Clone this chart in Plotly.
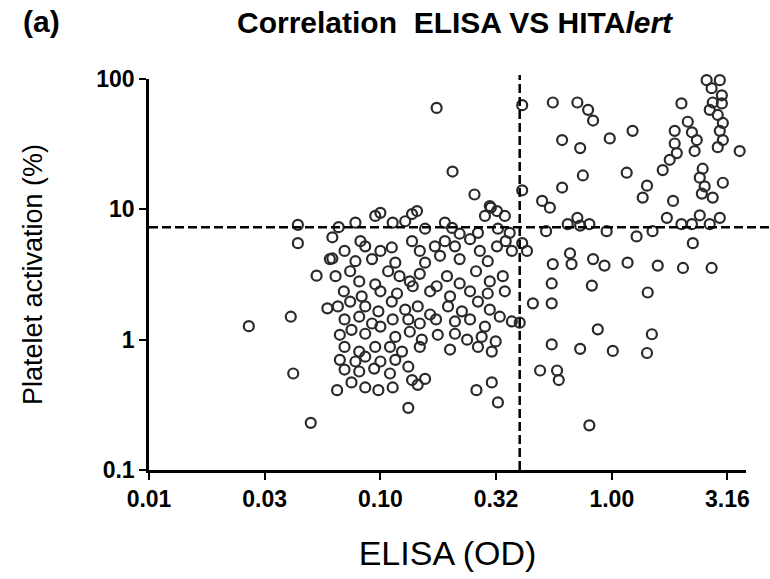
import plotly.graph_objects as go

# ELISA OD values (x) and platelet activation % (y)
elisa_left = [0.027, 0.041, 0.042, 0.050, 0.044, 0.044, 0.053, 0.062, 0.059, 0.065, 0.175, 0.205, 0.41, 0.255, 0.30]
plt_left = [1.27, 1.5, 0.55, 0.23, 7.6, 5.5, 3.1, 4.2, 1.74, 0.41, 60, 19.5, 14, 13, 10.3]

elisa_c1 = [0.078, 0.095, 0.10, 0.113, 0.128, 0.137, 0.144, 0.156, 0.19, 0.204, 0.22, 0.264, 0.283, 0.297, 0.319,
            0.345, 0.322, 0.362, 0.066, 0.082, 0.062]
plt_c1 = [7.9, 8.9, 9.4, 7.9, 8.1, 9.2, 9.7, 7.1, 7.9, 7.2, 6.5, 6.6, 8.9, 10.6, 9.7,
          8.9, 7.1, 6.6, 7.3, 5.7, 6.1]

elisa_c2 = [0.070, 0.086, 0.10, 0.112, 0.137, 0.148, 0.172, 0.19, 0.21, 0.244, 0.269, 0.319, 0.348, 0.37, 0.0605,
            0.078, 0.092, 0.116, 0.156, 0.181, 0.22, 0.291]
plt_c2 = [4.8, 5.2, 4.8, 5.1, 5.7, 4.8, 5.2, 5.7, 5.2, 5.9, 4.8, 5.2, 5.7, 4.8, 4.15,
          4.0, 4.15, 3.9, 3.9, 4.4, 4.15, 4.0]

elisa_c3 = [0.064, 0.074, 0.081, 0.095, 0.108, 0.121, 0.134, 0.148, 0.175, 0.194, 0.22, 0.259, 0.297, 0.338,
            0.0695, 0.083, 0.10, 0.118, 0.138, 0.164, 0.20, 0.244, 0.291, 0.345]
plt_c3 = [3.07, 3.35, 2.8, 2.66, 3.35, 3.07, 2.8, 3.2, 2.57, 3.07, 2.7, 3.35, 2.8, 3.07,
          2.35, 2.15, 2.35, 2.26, 2.57, 2.35, 2.15, 2.35, 2.26, 2.35]

elisa_c4 = [0.0655, 0.074, 0.086, 0.098, 0.112, 0.128, 0.145, 0.164, 0.196, 0.225, 0.264, 0.297,
            0.070, 0.081, 0.092, 0.113, 0.132, 0.148, 0.174, 0.21, 0.244, 0.283, 0.328, 0.37]
plt_c4 = [1.8, 1.96, 1.8, 1.65, 1.96, 1.7, 1.8, 1.56, 1.8, 1.65, 1.96, 1.7,
          1.43, 1.5, 1.33, 1.43, 1.43, 1.33, 1.43, 1.38, 1.43, 1.26, 1.5, 1.38]

elisa_c5 = [0.0668, 0.075, 0.086, 0.10, 0.116, 0.134, 0.151, 0.177, 0.21, 0.237, 0.274, 0.315,
            0.070, 0.081, 0.095, 0.11, 0.124, 0.148, 0.20, 0.264, 0.303]
plt_c5 = [1.09, 1.19, 1.11, 1.26, 1.05, 1.15, 1.0, 1.09, 1.11, 1.0, 1.05, 0.97,
          0.88, 0.81, 0.88, 0.88, 0.81, 0.88, 0.84, 0.88, 0.81]

elisa_c6 = [0.0668, 0.078, 0.086, 0.10, 0.116, 0.132, 0.070, 0.081, 0.094, 0.11, 0.137, 0.156,
            0.075, 0.086, 0.098, 0.113, 0.132, 0.26, 0.303, 0.322, 0.145]
plt_c6 = [0.70, 0.68, 0.74, 0.68, 0.70, 0.62, 0.59, 0.57, 0.60, 0.55, 0.49, 0.50,
          0.47, 0.43, 0.41, 0.43, 0.30, 0.41, 0.47, 0.33, 0.45]

elisa_r1 = [0.41, 0.556, 0.71, 0.79, 0.83, 2.0, 2.57, 2.93, 2.70, 2.99, 2.73, 2.99, 2.65, 2.87, 3.02, 2.93,
            3.02, 2.87, 3.57, 1.23, 0.98, 0.61, 0.73, 1.87, 2.13, 2.22, 2.33, 1.87, 1.91, 1.78, 2.28, 1.66,
            2.47, 2.40, 2.52, 2.45, 2.73, 3.02, 0.75, 1.16, 0.61, 0.50, 0.54, 1.42, 1.36, 1.84]
plt_r1 = [63, 66, 66, 58, 48, 65, 98, 98, 85, 75, 66, 65, 58, 53, 46, 40,
          34, 30, 28, 40, 35, 34, 29.5, 40, 47, 39, 34, 32, 27, 24, 28, 20,
          20.5, 17.5, 15, 13.2, 12.3, 16, 18.2, 19.1, 14.7, 11.6, 10.3, 15.2, 12.3, 11.6]

elisa_r2 = [0.71, 0.645, 0.73, 0.52, 0.80, 0.95, 1.28, 1.50, 1.73, 2.0, 2.22, 2.40, 2.65, 2.93, 2.24, 0.41, 0.43]
plt_r2 = [8.6, 7.7, 7.5, 6.8, 7.7, 6.8, 6.2, 6.8, 8.6, 7.7, 7.7, 9.0, 7.7, 8.6, 5.5, 5.5, 4.8]

elisa_r3 = [0.556, 0.67, 0.83, 0.93, 1.17, 1.58, 2.03, 2.70, 0.66, 0.55, 0.82, 1.43, 0.456, 0.55, 0.40,
            0.87, 1.49, 0.55, 0.73, 1.01, 1.42, 0.49, 0.58, 0.59, 0.80]
plt_r3 = [3.8, 3.8, 4.15, 3.7, 3.9, 3.7, 3.55, 3.55, 4.6, 2.7, 2.6, 2.3, 1.9, 1.9, 1.35,
          1.2, 1.1, 0.92, 0.85, 0.82, 0.79, 0.58, 0.58, 0.49, 0.22]

elisa = elisa_left + elisa_c1 + elisa_c2 + elisa_c3 + elisa_c4 + elisa_c5 + elisa_c6 + elisa_r1 + elisa_r2 + elisa_r3
platelet = plt_left + plt_c1 + plt_c2 + plt_c3 + plt_c4 + plt_c5 + plt_c6 + plt_r1 + plt_r2 + plt_r3

elisa_cutoff = 0.4
platelet_cutoff = 7.3

x_tickvals = [0.01, 0.0316, 0.1, 0.316, 1.0, 3.16]
x_ticktext = ["0.01", "0.03", "0.10", "0.32", "1.00", "3.16"]
y_tickvals = [0.1, 1, 10, 100]
y_ticktext = ["0.1", "1", "10", "100"]

FONT = "Liberation Sans, Arial, sans-serif"

fig = go.Figure()
fig.add_trace(go.Scatter(
    x=elisa, y=platelet, mode="markers", cliponaxis=False,
    marker=dict(symbol="circle-open", size=10, color="#2a2a2a", line=dict(width=2.2, color="#2a2a2a")),
    showlegend=False, hoverinfo="x+y"))

fig.add_shape(type="line", xref="x", yref="paper", x0=elisa_cutoff, x1=elisa_cutoff, y0=0, y1=1.01,
              line=dict(color="black", width=2.5, dash="9px,4px"))
fig.add_shape(type="line", xref="paper", yref="y", x0=0, x1=1.04, y0=platelet_cutoff, y1=platelet_cutoff,
              line=dict(color="black", width=2.5, dash="9px,4px"))

fig.update_layout(
    width=770, height=579,
    margin=dict(l=149, r=24, t=79, b=109),
    paper_bgcolor="white", plot_bgcolor="white",
    font=dict(family=FONT, color="black"),
    annotations=[
        dict(text="(a)", xref="paper", yref="paper", x=-0.18, y=1.148, xanchor="center", yanchor="middle",
             showarrow=False, font=dict(size=30, family=FONT, weight="bold")),
        dict(text="Correlation  ELISA VS HITA<i>lert</i>", xref="paper", yref="paper", x=0.513, y=1.145,
             xanchor="center", yanchor="middle", showarrow=False, font=dict(size=30, family=FONT, weight="bold")),
    ],
)
fig.update_xaxes(
    type="log", range=[-2, 0.58], tickvals=x_tickvals, ticktext=x_ticktext,
    showgrid=False, zeroline=False, showline=True, linecolor="black", linewidth=2.5,
    ticks="outside", ticklen=7, tickwidth=2, tickcolor="black",
    tickfont=dict(size=23, family=FONT, weight="bold"),
    title=dict(text="ELISA (OD)", font=dict(size=34, family=FONT), standoff=30),
)
fig.update_yaxes(
    type="log", range=[-1, 2], tickvals=y_tickvals, ticktext=y_ticktext,
    showgrid=False, zeroline=False, showline=True, linecolor="black", linewidth=2.5,
    ticks="outside", ticklen=7, tickwidth=2, tickcolor="black",
    tickfont=dict(size=23, family=FONT, weight="bold"),
    title=dict(text="Platelet activation (%)", font=dict(size=27, family=FONT), standoff=46),
)

fig.write_html("out.html")
